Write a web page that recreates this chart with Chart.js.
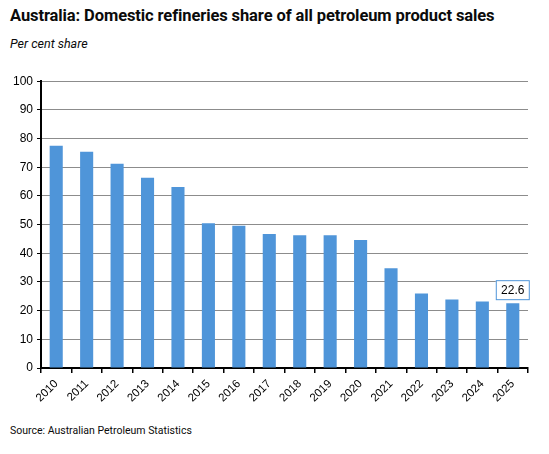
<!DOCTYPE html>
<html>
<head>
<meta charset="utf-8">
<script src="https://cdn.jsdelivr.net/npm/chart.js@4"></script>
<style>
  body { margin: 0; background: #fff; }
  #wrap { position: relative; width: 549px; height: 454px; overflow: hidden; }
  .txt { position: absolute; left: 10px; white-space: nowrap; color: #0b0b0b; font-family: Roboto, sans-serif; line-height: 1; }
  #title { top: 8px; font-size: 16.5px; font-weight: 700; letter-spacing: -0.1px; }
  #subtitle { top: 38px; font-size: 12.5px; font-style: italic; }
  #source { top: 426px; font-size: 10.5px; }
  #box { position: absolute; left: 0; top: 70px; width: 549px; height: 350px; }
</style>
</head>
<body>
<div id="wrap">
  <div class="txt" id="title">Australia: Domestic refineries share of all petroleum product sales</div>
  <div class="txt" id="subtitle">Per cent share</div>
  <div id="box"><canvas id="graphic"></canvas></div>
  <div class="txt" id="source">Source: Australian Petroleum Statistics</div>
</div>
<script>
const years = ['2010', '2011', '2012', '2013', '2014', '2015', '2016', '2017',
  '2018', '2019', '2020', '2021', '2022', '2023', '2024', '2025']
const shares = [77.5, 75.4, 71.2, 66.3, 63.1, 50.5, 49.6, 46.7,
  46.3, 46.3, 44.6, 34.8, 26.0, 23.9, 23.2, 22.6]
const yTicks = [0, 10, 20, 30, 40, 50, 60, 70, 80, 90, 100]

const barBlue = '#4f95d9'

// boxed value label over the last bar
const lastLabel = {
  id: 'lastLabel',
  afterDatasetsDraw (chart) {
    const ctx = chart.ctx
    const meta = chart.getDatasetMeta(0)
    const i = shares.length - 1
    const bar = meta.data[i]
    const text = shares[i].toFixed(1)
    ctx.save()
    ctx.font = '12px "Liberation Sans", Arial, sans-serif'
    const w = 34, h = 20
    const x = bar.x - w / 2
    const y = bar.y - 3 - h
    ctx.fillStyle = '#fff'
    ctx.fillRect(x, y, w, h)
    ctx.strokeStyle = barBlue
    ctx.lineWidth = 1
    ctx.strokeRect(x + 0.5, y + 0.5, w - 1, h - 1)
    ctx.fillStyle = '#000'
    ctx.textAlign = 'center'
    ctx.textBaseline = 'middle'
    ctx.fillText(text, bar.x, y + h / 2 + 1)
    ctx.restore()
  }
}

const ctx = document.querySelector('#graphic').getContext('2d')
new Chart(ctx, {
  type: 'bar',
  data: {
    labels: years,
    datasets: [{
      data: shares,
      backgroundColor: barBlue,
      borderWidth: 0,
      barPercentage: 0.43,
      categoryPercentage: 1
    }]
  },
  options: {
    responsive: true,
    maintainAspectRatio: false,
    animation: false,
    layout: { padding: { top: 8, right: 21, left: 0, bottom: 0 } },
    plugins: {
      legend: { display: false },
      tooltip: { enabled: false }
    },
    scales: {
      x: {
        afterFit: (scale) => { scale.height = 52 },
        grid: { drawOnChartArea: false, offset: true, tickLength: 5, color: '#000', lineWidth: 1.5 },
        border: { color: '#000', width: 2 },
        ticks: {
          color: '#000',
          font: { family: '"Liberation Sans", Arial, sans-serif', size: 11.5 },
          maxRotation: 45,
          minRotation: 45,
          padding: 4
        }
      },
      y: {
        min: 0,
        max: 100,
        afterFit: (scale) => { scale.width = 41 },
        afterBuildTicks: (scale) => { scale.ticks = yTicks.map(v => ({ value: v })) },
        grid: { color: '#8c8c8c', lineWidth: 1, tickLength: 4, tickColor: '#000' },
        border: { color: '#000', width: 2 },
        ticks: {
          color: '#000',
          font: { family: '"Liberation Sans", Arial, sans-serif', size: 12 },
          padding: 4
        }
      }
    }
  },
  plugins: [lastLabel]
})
</script>
</body>
</html>
